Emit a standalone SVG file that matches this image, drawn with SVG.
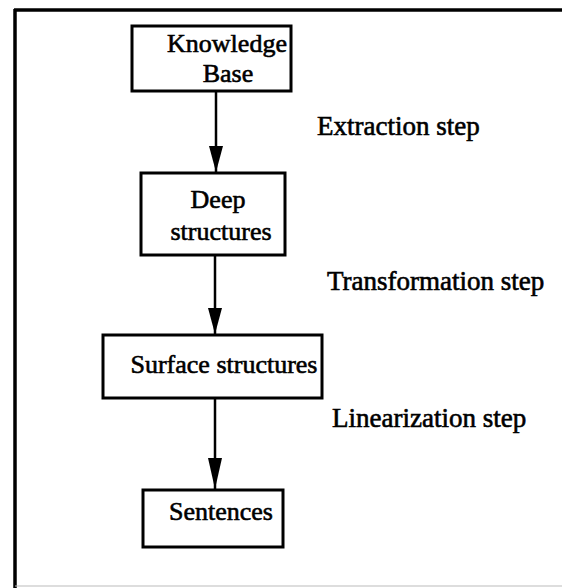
<svg xmlns="http://www.w3.org/2000/svg" width="562" height="588" viewBox="0 0 562 588">
<style>
.box{fill:#fff;stroke:#000;stroke-width:3}
.t{font-family:"Liberation Serif","Times New Roman",serif;font-size:26px;fill:#000;stroke:#000;stroke-width:0.6}
.l{font-size:27px}
.c{stroke:#000;stroke-width:2.5;fill:none}
</style>
<rect width="562" height="588" fill="#fff"/>
<g id="frame">
<line x1="14" y1="10" x2="562" y2="10" stroke="#000" stroke-width="3.5"/>
<line x1="15" y1="9" x2="15" y2="588" stroke="#000" stroke-width="3.5"/>
<line x1="15" y1="586" x2="562" y2="586" stroke="#bbb" stroke-width="1"/>
</g>
<g id="connectors">
<line class="c" x1="216" y1="91" x2="216" y2="172"/>
<path d="M209,146 L223,146 L216,172 Z" fill="#000"/>
<line class="c" x1="215" y1="255" x2="215" y2="334"/>
<path d="M208,308 L222,308 L215,334 Z" fill="#000"/>
<line class="c" x1="215" y1="398" x2="215" y2="489"/>
<path d="M208,458 L222,458 L215,489 Z" fill="#000"/>
</g>
<g id="kb">
<rect class="box" x="132" y="26" width="159" height="65"/>
<text class="t" x="227" y="52" text-anchor="middle">Knowledge</text>
<text class="t" x="228" y="82" text-anchor="middle">Base</text>
</g>
<g id="deep">
<rect class="box" x="141" y="173" width="144" height="82"/>
<text class="t" x="218" y="208" text-anchor="middle">Deep</text>
<text class="t" x="221" y="240" text-anchor="middle">structures</text>
</g>
<g id="surface">
<rect class="box" x="103" y="335" width="219" height="63"/>
<text class="t" x="224" y="373" text-anchor="middle">Surface structures</text>
</g>
<g id="sentences">
<rect class="box" x="143" y="490" width="140" height="57"/>
<text class="t" x="221" y="520" text-anchor="middle">Sentences</text>
</g>
<g id="labels">
<text class="t l" x="317" y="135">Extraction step</text>
<text class="t l" x="327" y="290">Transformation step</text>
<text class="t l" x="332" y="427">Linearization step</text>
</g>
</svg>
